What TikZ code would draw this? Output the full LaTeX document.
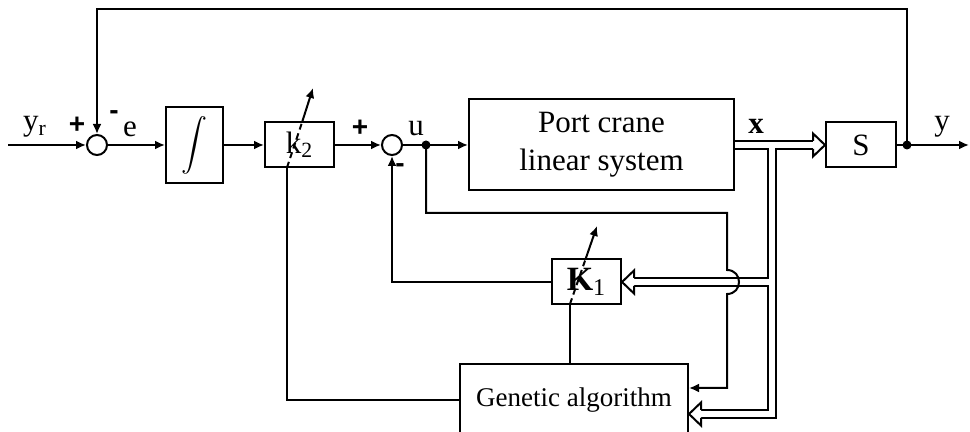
\documentclass[tikz,border=0pt]{standalone}
\usepackage{fontspec}
\setmainfont{Liberation Serif}
\setsansfont{Liberation Sans}
\usetikzlibrary{arrows.meta, positioning, calc}
\newcommand\lblfont{\fontsize{15.5}{19}\selectfont}
\tikzset{
  blk/.style={draw, line width=1pt, inner sep=0pt, align=center, font=\lblfont},
  sumpt/.style={draw, circle, line width=1pt, minimum size=10pt, inner sep=0pt},
  sig/.style={-{Latex[length=5pt, width=4.5pt]}, line width=1pt},
  wire/.style={line width=1pt},
  bus/.style={double, double distance=3pt, line width=1pt},
  jdot/.style={circle, fill, inner sep=0pt, minimum size=4.5pt},
  sgn/.style={font=\sffamily\bfseries\fontsize{14}{14}\selectfont, inner sep=0pt},
  lbl/.style={font=\lblfont, inner sep=0pt, anchor=base},
  hollowtip/.pic={\draw[line width=1pt, fill=white] (-12,-4) -- (-12,-11.5) -- (0,0) -- (-12,11.5) -- (-12,4);},
}

\begin{document}
\begin{tikzpicture}[x=0.5pt, y=-0.5pt]
  \useasboundingbox (0,0) rectangle (970,432);

  % main row
  \node[sumpt] (sum1) at (97,145) {};
  \node[blk, minimum width=28.5pt, minimum height=38pt, right=28.5pt of sum1] (integ) {\scalebox{1.3}{\fontsize{12}{12}\selectfont$\displaystyle\int$}};
  \node[blk, minimum width=34.5pt, minimum height=22.5pt, right=20pt of integ] (k2) {k\textsubscript{2}};
  \node[sumpt, right=23pt of k2] (sum2) {};
  \node[blk, minimum width=132.5pt, minimum height=45.5pt, right=32.5pt of sum2] (plant) {Port crane\\linear system};
  \node[blk, minimum width=35pt, minimum height=22.5pt, right=45pt of plant] (S) {S};

  % lower blocks
  \node[blk, minimum width=34.5pt, minimum height=22.5pt, font=\fontsize{17}{17}\selectfont] (K1) at (586.5,282) {\textbf{K}\textsubscript{\fontsize{12}{12}\selectfont 1}};
  \node[blk, minimum width=114pt, minimum height=36pt, font=\fontsize{13.5}{16}\selectfont] (ga) at (574,400) {Genetic algorithm};

  % labels
  \node[lbl] (yrlbl) at (35,131) {y\textsubscript{r}};
  \node[sgn] (p1) at (77,125) {+};
  \node[sgn] (m1) at (114,115) {-};
  \node[lbl] (elbl) at (130,137) {e};
  \node[sgn] (p2) at (360,128) {+};
  \node[sgn] (m2) at (400,168) {-};
  \node[lbl] (ulbl) at (416,136) {u};
  \node[lbl] (xlbl) at (756,134) {\textbf{x}};
  \node[lbl] (ylbl) at (942,131) {y};

  \coordinate (yrin) at (8,145);
  \coordinate (ujn) at (426,145);
  \coordinate (yjn) at (907,145);
  \coordinate (yout) at (969,145);
  \coordinate (fbtop) at (500,9);

  % signal flow
  \draw[sig] (yrin) -- (sum1);
  \draw[sig] (sum1) -- (integ);
  \draw[sig] (integ) -- (k2);
  \draw[sig] (k2) -- (sum2);
  \draw[sig] (sum2) -- (plant);
  \draw[sig] (S) -- (yout);
  \draw[sig] (yjn) |- (fbtop) -| (sum1.north);
  \draw[sig] (K1.west) -| (sum2.south);
  \node[jdot] at (ujn) {};
  \node[jdot] at (yjn) {};

  % state bus
  \coordinate (xjn) at (771.5,148);
  \coordinate (gabus) at (700,414);
  \coordinate (kjn) at (768.5,282);
  \draw[bus] (plant.east) -- ($(S.west)+(-12,0)$);
  \pic at (S.west) {hollowtip};
  \draw[bus] (xjn) |- (gabus);
  \pic[rotate=180] at (gabus -| ga.east) {hollowtip};
  \draw[bus] (kjn) -- ($(K1.east)+(12,0)$);
  \pic[rotate=180] at (K1.east) {hollowtip};

  % u to GA, jumping over the bus
  \coordinate (ua) at (426,213);
  \coordinate (ub) at (727,213);
  \coordinate (uc) at (727,270);
  \coordinate (ud) at (727,294);
  \coordinate (ue) at (727,388);
  \draw[sig] (ujn) -- (ua) -- (ub) -- (uc) .. controls (743,270) and (743,294) .. (ud) -- (ue) -- (ue -| ga.east);

  % tuning of the gains
  \coordinate (k2b) at (287,167.5);
  \coordinate (k2m) at (302,122.5);
  \coordinate (k2t) at (313,88);
  \draw[wire] (ga.west) -| (k2b);
  \draw[wire, densely dashed] (k2b) -- (k2m);
  \draw[sig] (k2m) -- (k2t);
  \coordinate (K1b) at (570,304);
  \coordinate (K1m) at (585.6,259);
  \coordinate (K1t) at (597,226);
  \draw[wire] (K1b |- ga.north) -- (K1b);
  \draw[wire, densely dashed] (K1b) -- (K1m);
  \draw[sig] (K1m) -- (K1t);
\end{tikzpicture}
\end{document}
